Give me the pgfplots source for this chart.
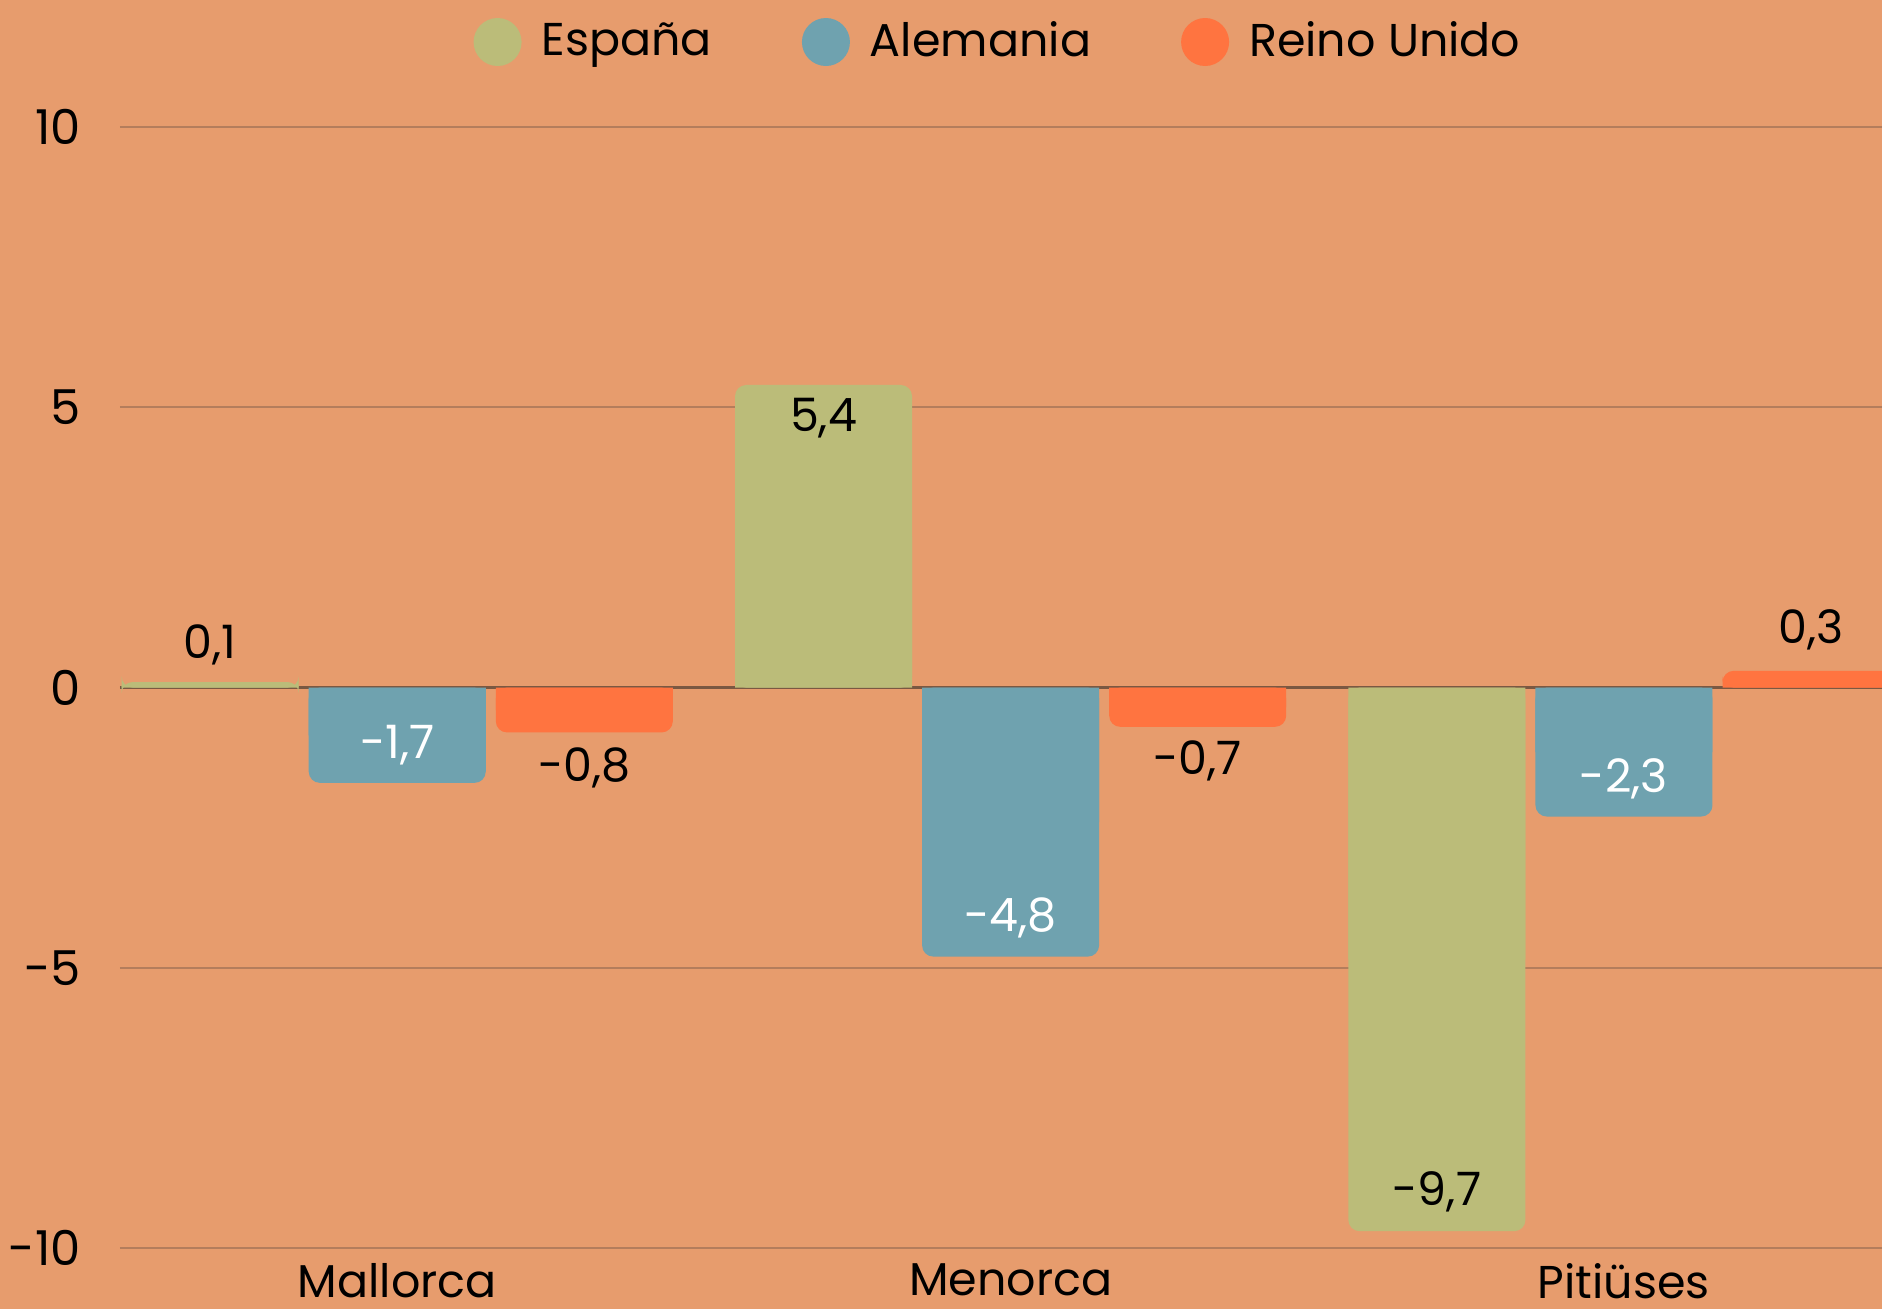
\documentclass[border=0pt]{standalone}
\usepackage{fontspec}
\setmainfont{Poppins}
\usepackage{pgfplots}
\pgfplotsset{compat=1.18}
\usepackage{pgfplotstable}

\definecolor{bg}{HTML}{E79C6D}
\definecolor{espana}{HTML}{BBBC79}
\definecolor{alemania}{HTML}{6FA2AF}
\definecolor{reino}{HTML}{FF7440}
\definecolor{gridc}{HTML}{B47D5C}
\definecolor{zeroc}{HTML}{7A5842}

% x = island (0 Mallorca, 1 Menorca, 2 Pitiuses), y = value, ly = where the label sits
\pgfplotstableread{
x y ly lab
0 0.1 0.77 0,1
1 5.4 4.80 5,4
2 -9.7 -8.99 -9,7
}\espana
\pgfplotstableread{
x y ly lab
0 -1.7 -1.03 -1,7
1 -4.8 -4.11 -4,8
2 -2.3 -1.63 -2,3
}\alemania
\pgfplotstableread{
x y ly lab
0 -0.8 -1.43 -0,8
1 -0.7 -1.31 -0,7
2 0.3 1.03 0,3
}\reino

\pgfplotsset{
  circ legend/.style={legend image code/.code={\fill[##1] (6pt,0pt) circle (6pt);}},
  % rounded bar, then a square half-bar over the end at zero
  rbar/.style={ybar, bar shift=0pt, fill=#1, draw=none, rounded corners=2.8pt, circ legend},
  sbar/.style={forget plot, ybar, bar shift=0pt, fill=#1, draw=none},
  barlab/.style={forget plot, only marks, mark=none, nodes near coords,
    point meta=explicit symbolic, nodes near coords align={center},
    every node near coord/.append style={font=\fontsize{11.5}{13}\selectfont, text=#1, inner sep=0pt}},
}

\begin{document}
\begin{tikzpicture}
\fill[bg] (-30pt,-15.3pt) rectangle (440.5pt,312pt);
\begin{axis}[
  at={(0,0)}, anchor=south west,
  scale only axis, width=440.5pt, height=280.2pt,
  xmin=-0.452, xmax=2.4207, ymin=-10, ymax=10,
  axis line style={draw=none},
  major tick length=0pt,
  xtick={0,1,2}, xticklabels={Mallorca,Menorca,Pitiüses},
  ytick={-10,-5,0,5,10}, yticklabels={-10,-5,0,5,10},
  ticklabel style={font=\fontsize{12}{14}\selectfont, inner sep=0pt},
  yticklabel style={anchor=east, xshift=-9.6pt},
  xticklabel style={anchor=north, yshift=-3.6pt, font=\fontsize{11.5}{13}\selectfont},
  ymajorgrids, grid style={gridc, line width=0.5pt},
  extra y ticks={0}, extra y tick labels={},
  extra y tick style={grid style={zeroc, line width=0.6pt}},
  bar width=0.2886,
  legend style={at={(0.5,1)}, anchor=center, yshift=21.3pt, draw=none, fill=none,
    legend columns=-1, font=\fontsize{11.5}{13}\selectfont,
    /tikz/every odd column/.append style={column sep=3pt},
    /tikz/every even column/.append style={column sep=20.5pt}},
]
\addplot[rbar=espana] table[x expr=\thisrow{x}-0.305, y=y] {\espana};
\addlegendentry{España}
\addplot[rbar=alemania] table[x=x, y=y] {\alemania};
\addlegendentry{Alemania}
\addplot[rbar=reino] table[x expr=\thisrow{x}+0.305, y=y] {\reino};
\addlegendentry{Reino Unido}

\addplot[sbar=espana] table[x expr=\thisrow{x}-0.305, y expr=\thisrow{y}/2] {\espana};
\addplot[sbar=alemania] table[x=x, y expr=\thisrow{y}/2] {\alemania};
\addplot[sbar=reino] table[x expr=\thisrow{x}+0.305, y expr=\thisrow{y}/2] {\reino};

\addplot[barlab=black] table[x expr=\thisrow{x}-0.305, y=ly, meta=lab] {\espana};
\addplot[barlab=white] table[x=x, y=ly, meta=lab] {\alemania};
\addplot[barlab=black] table[x expr=\thisrow{x}+0.305, y=ly, meta=lab] {\reino};
\end{axis}
\pgfresetboundingbox
\path[use as bounding box] (-30pt,-15.3pt) rectangle (440.5pt,312pt);
\end{tikzpicture}
\end{document}
